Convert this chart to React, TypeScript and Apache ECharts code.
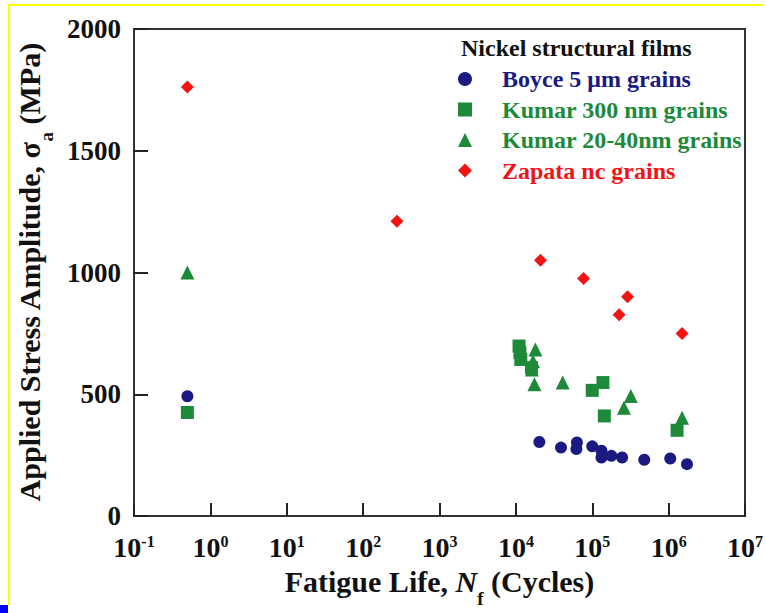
import React, { useEffect, useRef } from "react";
import * as echarts from "echarts";

const boyceData: [number, number][] = [
  [0.5, 492], [2.03e4, 304], [3.9e4, 281], [6.3e4, 302], [6.2e4, 275], [1.0e5, 286],
  [1.32e5, 268], [1.32e5, 240], [1.78e5, 247], [2.46e5, 240], [4.8e5, 231], [1.05e6, 236], [1.74e6, 213],
];
const kumar300Data: [number, number][] = [
  [0.5, 425], [1.1e4, 698], [1.13e4, 671], [1.16e4, 643], [1.6e4, 609],
  [1.0e5, 516], [1.38e5, 548], [1.44e5, 411], [1.29e6, 352],
];
const kumar2040Data: [number, number][] = [
  [0.5, 1000], [1.8e4, 684], [1.68e4, 636], [1.62e4, 602], [1.75e4, 541],
  [4.1e4, 548], [3.2e5, 493], [2.6e5, 445], [1.5e6, 404],
];
const zapataData: [number, number][] = [
  [0.5, 1762], [277, 1210], [2.1e4, 1050], [7.7e4, 975], [2.9e5, 900], [2.25e5, 827], [1.5e6, 749],
];
const seriesNames = ["Boyce 5 μm grains", "Kumar 300 nm grains", "Kumar 20-40nm grains", "Zapata nc grains"];
const legendTitle = "Nickel structural films";

const FONT = "'Liberation Serif', 'Times New Roman', serif";
const NAVY = "#1a1a82";
const GREEN = "#1d8a3a";
const RED = "#f21414";
const INK = "#111";

export default function App() {
  const ref = useRef<HTMLDivElement>(null);
  useEffect(() => {
    const chart = echarts.init(ref.current!, null, { renderer: "svg" });
    const option: any = {
      animation: false,
      backgroundColor: "#ffffff",
      textStyle: { fontFamily: FONT },
      grid: {
        left: 134, right: 19, top: 29, bottom: 96,
        show: true, borderColor: "#333", borderWidth: 2, backgroundColor: "transparent",
      },
      title: {
        text: legendTitle, left: 461, top: 36, padding: 0,
        textStyle: { fontFamily: FONT, fontWeight: "bold", fontSize: 24, color: INK, lineHeight: 24 },
      },
      legend: {
        orient: "vertical", left: 458, top: 67, padding: 0, itemGap: 6.5,
        itemWidth: 14, itemHeight: 14,
        textStyle: { fontFamily: FONT, fontWeight: "bold", fontSize: 24, lineHeight: 20, padding: [0, 0, 0, 25] },
        data: [
          { name: seriesNames[0], textStyle: { color: NAVY } },
          { name: seriesNames[1], textStyle: { color: GREEN } },
          { name: seriesNames[2], textStyle: { color: GREEN } },
          { name: seriesNames[3], textStyle: { color: RED } },
        ],
      },
      xAxis: {
        type: "log", logBase: 10, min: 0.1, max: 1e7, splitNumber: 8,
        axisLine: { lineStyle: { color: "#333", width: 2 } },
        axisTick: { inside: true, length: 13, lineStyle: { color: "#222", width: 2 } },
        splitLine: { show: false },
        minorTick: { show: false },
        axisLabel: {
          margin: 17,
          formatter: (v: number) => "{b|10}{s|" + Math.round(Math.log10(v)) + "}",
          rich: {
            b: { fontFamily: FONT, fontWeight: "bold", fontSize: 28, color: INK, lineHeight: 28 },
            s: { fontFamily: FONT, fontWeight: "bold", fontSize: 16, color: INK, verticalAlign: "top", lineHeight: 16 },
          },
        },
        name: "{b|Fatigue Life, }{i|N}{s|f}{b| (Cycles)}",
        nameLocation: "middle", nameGap: 48,
        nameTextStyle: {
          rich: {
            b: { fontFamily: FONT, fontWeight: "bold", fontSize: 30, color: INK, lineHeight: 34 },
            i: { fontFamily: FONT, fontWeight: "bold", fontStyle: "italic", fontSize: 30, color: INK, lineHeight: 34 },
            s: { fontFamily: FONT, fontWeight: "bold", fontSize: 19, color: INK, verticalAlign: "bottom", lineHeight: 19, padding: [0, 0, -10, 0] },
          },
        },
      },
      yAxis: {
        type: "value", min: 0, max: 2000, interval: 500,
        axisLine: { show: true, lineStyle: { color: "#333", width: 2 } },
        axisTick: { show: true, inside: true, length: 14, lineStyle: { color: "#222", width: 2 } },
        splitLine: { show: false },
        axisLabel: {
          margin: 13, fontFamily: FONT, fontWeight: "bold", fontSize: 27, color: INK,
          formatter: (v: number) => String(v),
        },
        name: "{b|Applied Stress Amplitude, σ}{s|a}{b| (MPa)}",
        nameLocation: "middle", nameRotate: 90, nameGap: 80,
        nameTextStyle: {
          rich: {
            b: { fontFamily: FONT, fontWeight: "bold", fontSize: 30, color: INK, lineHeight: 34 },
            s: { fontFamily: FONT, fontWeight: "bold", fontSize: 19, color: INK, verticalAlign: "bottom", lineHeight: 19, padding: [0, 0, -10, 0] },
          },
        },
      },
      series: [
        { name: seriesNames[0], type: "scatter", symbol: "circle", symbolSize: 12, itemStyle: { color: NAVY, opacity: 1 }, data: boyceData },
        { name: seriesNames[1], type: "scatter", symbol: "rect", symbolSize: 13, itemStyle: { color: GREEN, opacity: 1 }, data: kumar300Data },
        { name: seriesNames[2], type: "scatter", symbol: "triangle", symbolSize: 14, itemStyle: { color: GREEN, opacity: 1 }, data: kumar2040Data },
        { name: seriesNames[3], type: "scatter", symbol: "diamond", symbolSize: 13, itemStyle: { color: RED, opacity: 1 }, data: zapataData },
      ],
      graphic: [
        { type: "line", shape: { x1: 8, y1: 5, x2: 764, y2: 5 }, style: { stroke: "#ffff00", lineWidth: 2 } },
        { type: "line", shape: { x1: 9, y1: 4, x2: 9, y2: 606 }, style: { stroke: "#ffff00", lineWidth: 2 } },
        { type: "rect", shape: { x: 0, y: 605, width: 8, height: 8 }, style: { fill: "#0000ff" } },
      ],
    };
    chart.setOption(option);
    return () => chart.dispose();
  }, []);
  return (
    <div ref={ref} style={{ position: "fixed", left: 0, top: 0, width: 766, height: 613 }} />
  );
}
